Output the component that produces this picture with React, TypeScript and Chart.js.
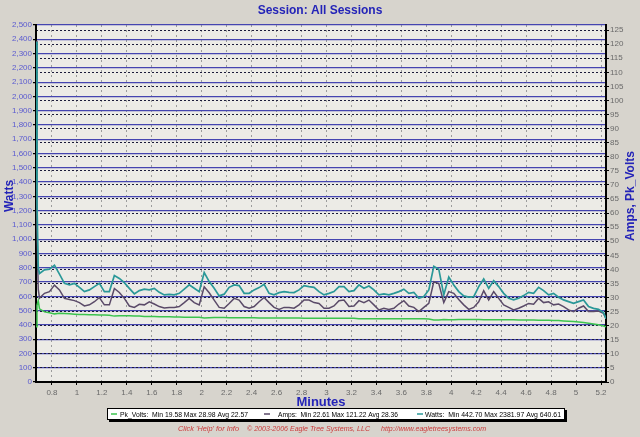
import React, { useEffect, useRef } from 'react';
import { Chart, registerables } from 'chart.js';

Chart.register(...registerables);

// ---------- data ----------
const MINUTES = [
  0.672, 0.68, 0.69,
  0.70, 0.74, 0.78, 0.82, 0.86, 0.90, 0.94, 0.98, 1.02, 1.06,
  1.10, 1.14, 1.18, 1.22, 1.26, 1.30, 1.34, 1.38, 1.42, 1.46,
  1.50, 1.54, 1.58, 1.62, 1.66, 1.70, 1.74, 1.78, 1.82, 1.86,
  1.90, 1.94, 1.98, 2.02, 2.06, 2.10, 2.14, 2.18, 2.22, 2.26,
  2.30, 2.34, 2.38, 2.42, 2.46, 2.50, 2.54, 2.58, 2.62, 2.66,
  2.70, 2.74, 2.78, 2.82, 2.86, 2.90, 2.94, 2.98, 3.02, 3.06,
  3.10, 3.14, 3.18, 3.22, 3.26, 3.30, 3.34, 3.38, 3.42, 3.46,
  3.50, 3.54, 3.58, 3.62, 3.66, 3.70, 3.74, 3.78, 3.82, 3.86,
  3.90, 3.94, 3.98, 4.02, 4.06, 4.10, 4.14, 4.18, 4.22, 4.26,
  4.30, 4.34, 4.38, 4.42, 4.46, 4.50, 4.54, 4.58, 4.62, 4.66,
  4.70, 4.74, 4.78, 4.82, 4.86, 4.90, 4.94, 4.98, 5.02, 5.06,
  5.10, 5.14, 5.18, 5.22, 5.24,
];

const WATTS = [
  2382, 1250, 800,
  760, 785, 790, 818, 755, 691, 680, 691, 663, 633,
  645, 668, 691, 633, 633, 745, 725, 696, 656, 617,
  640, 650, 645, 656, 628, 610, 614, 610, 621, 650,
  680, 656, 633, 766, 703, 656, 603, 615, 663, 680,
  675, 621, 621, 645, 661, 684, 621, 610, 626, 633,
  628, 626, 645, 675, 668, 663, 633, 610, 621, 633,
  668, 668, 633, 640, 680, 656, 672, 645, 610, 617,
  610, 621, 633, 650, 621, 628, 586, 598, 645, 810,
  790, 610, 735, 680, 633, 603, 594, 598, 668, 722,
  656, 710, 668, 621, 586, 575, 586, 605, 628, 621,
  663, 640, 610, 621, 594, 575, 563, 551, 563, 575,
  528, 516, 509, 486, 443,
];

const AMPS = [
  121.2, 55, 33,
  29.8, 31.5, 32.1, 34.4, 32.7, 29.7, 29.3, 28.9, 28.2, 27.0,
  27.4, 28.5, 30.0, 27.4, 27.4, 33.2, 31.8, 29.7, 27.0, 26.5,
  27.6, 27.4, 28.5, 27.7, 26.8, 26.3, 26.5, 26.5, 26.8, 28.2,
  29.7, 28.2, 27.4, 33.8, 31.7, 29.1, 26.5, 26.2, 27.9, 29.7,
  29.1, 26.8, 26.2, 26.8, 28.5, 30.0, 28.2, 26.5, 25.8, 26.5,
  26.5, 26.2, 27.4, 29.1, 29.1, 28.2, 27.9, 26.2, 26.2, 27.0,
  28.9, 29.1, 26.8, 27.0, 28.9, 28.2, 29.1, 27.4, 25.6, 26.2,
  25.8, 26.2, 27.7, 28.9, 27.0, 26.5, 25.0, 26.5, 27.9, 35.6,
  35.0, 28.2, 32.1, 31.5, 29.3, 27.4, 25.8, 26.5, 28.5, 32.4,
  29.1, 32.1, 29.7, 27.4, 26.5, 25.6, 26.2, 27.0, 27.9, 27.6,
  29.7, 28.2, 28.5, 27.4, 27.7, 26.8, 25.6, 25.0, 26.2, 27.0,
  25.0, 25.0, 25.2, 24.4, 22.6,
];

const PK_VOLTS = [
  19.6, 27.2, 28.9,
  26.0, 24.9, 24.6, 24.2, 24.4, 24.3, 24.2, 24.1, 24.0, 24.0,
  23.9, 23.9, 23.8, 23.8, 23.7, 23.4, 23.5, 23.5, 23.5, 23.4,
  23.4, 23.3, 23.3, 23.3, 23.2, 23.2, 23.2, 23.1, 23.1, 23.0,
  23.0, 23.0, 23.0, 22.7, 22.8, 22.9, 22.9, 22.9, 22.8, 22.8,
  22.8, 22.8, 22.8, 22.8, 22.7, 22.7, 22.7, 22.7, 22.7, 22.7,
  22.7, 22.7, 22.7, 22.6, 22.6, 22.6, 22.6, 22.6, 22.6, 22.6,
  22.6, 22.6, 22.6, 22.6, 22.5, 22.5, 22.5, 22.5, 22.5, 22.5,
  22.5, 22.5, 22.5, 22.5, 22.5, 22.5, 22.5, 22.5, 22.4, 22.0,
  22.0, 22.2, 22.1, 22.1, 22.2, 22.2, 22.2, 22.2, 22.2, 22.1,
  22.1, 22.1, 22.1, 22.1, 22.1, 22.1, 22.0, 22.0, 22.0, 22.0,
  21.9, 21.9, 21.9, 21.8, 21.8, 21.7, 21.6, 21.5, 21.3, 21.1,
  20.9, 20.6, 20.3, 19.9, 19.6,
];

const MINUTE_TICKS = [0.8, 1, 1.2, 1.4, 1.6, 1.8, 2, 2.2, 2.4, 2.6, 2.8, 3, 3.2, 3.4, 3.6, 3.8, 4, 4.2, 4.4, 4.6, 4.8, 5, 5.2];
const WATT_TICKS = [0, 100, 200, 300, 400, 500, 600, 700, 800, 900, 1000, 1100, 1200, 1300, 1400, 1500, 1600, 1700, 1800, 1900, 2000, 2100, 2200, 2300, 2400, 2500];
const AMP_TICKS = [0, 5, 10, 15, 20, 25, 30, 35, 40, 45, 50, 55, 60, 65, 70, 75, 80, 85, 90, 95, 100, 105, 110, 115, 120, 125];

const TITLE = 'Session: All Sessions';
const X_TITLE = 'Minutes';
const Y_TITLE = 'Watts';
const Y2_TITLE = 'Amps, Pk_Volts';
const LEGEND_NAMES = ['Pk_Volts', 'Amps', 'Watts'];
const LEGEND_TEXTS = [
  'Pk_Volts:  Min 19.58 Max 28.98 Avg 22.57',
  'Amps:  Min 22.61 Max 121.22 Avg 28.36',
  'Watts:  Min 442.70 Max 2381.97 Avg 640.61',
];
const FOOTER_TEXTS = [
  "Click 'Help' for Info",
  '\u00a9 2003-2006 Eagle Tree Systems, LLC',
  'http://www.eagletreesystems.com',
];

// ---------- styling ----------
const COLORS: Record<string, string> = {
  Watts: '#2a9898',
  Amps: '#5a4a68',
  Pk_Volts: '#3cc44f',
};
const FONT = '"Liberation Sans", Arial, sans-serif';
const BLUE = '#2424b8';

function fitText(ctx: CanvasRenderingContext2D, text: string, x: number, y: number, w: number) {
  const m = ctx.measureText(text).width;
  ctx.save();
  ctx.translate(x, y);
  ctx.scale(w / m, 1);
  ctx.fillText(text, 0, 0);
  ctx.restore();
}

const decorPlugin = {
  id: 'decor',
  beforeDraw(chart: any) {
    const { ctx, chartArea: a, width, height } = chart;
    ctx.save();
    ctx.fillStyle = '#d7d4cd';
    ctx.fillRect(0, 0, width, height);
    ctx.fillStyle = '#ecebe6';
    ctx.fillRect(a.left, a.top, a.right - a.left, a.bottom - a.top);
    ctx.restore();
  },
  afterDraw(chart: any) {
    const { ctx } = chart;
    ctx.save();
    // title
    ctx.fillStyle = BLUE;
    ctx.textBaseline = 'middle';
    ctx.textAlign = 'center';
    ctx.font = `bold 12px ${FONT}`;
    ctx.fillText(TITLE, 320, 11);
    // x title
    ctx.font = `bold 13px ${FONT}`;
    ctx.fillText(X_TITLE, 321, 402);
    // y titles
    ctx.font = `bold 12px ${FONT}`;
    ctx.save();
    ctx.translate(10, 196);
    ctx.rotate(-Math.PI / 2);
    ctx.fillText(Y_TITLE, 0, 0);
    ctx.restore();
    ctx.save();
    ctx.translate(631, 196);
    ctx.rotate(-Math.PI / 2);
    ctx.fillText(Y2_TITLE, 0, 0);
    ctx.restore();

    // legend box
    const bx = 107, by = 408, bw = 458, bh = 12;
    ctx.fillStyle = '#000';
    ctx.fillRect(bx + 2, by + 2, bw, bh);
    ctx.fillStyle = '#ffffff';
    ctx.fillRect(bx, by, bw, bh);
    ctx.strokeStyle = '#000';
    ctx.lineWidth = 1;
    ctx.strokeRect(bx + 0.5, by + 0.5, bw - 1, bh - 1);
    const dashX = [111, 264, 417];
    const textX = [120, 278, 425];
    const textW = [128, 120, 136];
    ctx.font = `8px ${FONT}`;
    ctx.textAlign = 'left';
    LEGEND_NAMES.forEach((name, i) => {
      ctx.strokeStyle = COLORS[name];
      ctx.lineWidth = 1.5;
      ctx.beginPath();
      ctx.moveTo(dashX[i], by + 6);
      ctx.lineTo(dashX[i] + 6, by + 6);
      ctx.stroke();
      ctx.fillStyle = '#000';
      fitText(ctx, LEGEND_TEXTS[i], textX[i], by + 6.5, textW[i]);
    });

    // footer
    ctx.font = `italic 8px ${FONT}`;
    ctx.fillStyle = '#cc3a3a';
    const fx = [178, 247, 381];
    const fw = [61, 123, 105];
    FOOTER_TEXTS.forEach((t, i) => fitText(ctx, t, fx[i], 429, fw[i]));
    ctx.restore();
  },
};

export default function App() {
  const ref = useRef<HTMLCanvasElement | null>(null);
  useEffect(() => {
    document.body.style.margin = '0';
    const canvas = ref.current;
    if (!canvas) return;
    const mk = (arr: number[]) => MINUTES.map((m, i) => ({ x: m, y: arr[i] }));
    const tickFont = { family: FONT, size: 8 };
    const chart = new Chart(canvas, {
      type: 'line',
      data: {
        datasets: [
          { label: 'Watts', data: mk(WATTS), yAxisID: 'y', borderColor: COLORS.Watts, borderWidth: 1.7, pointRadius: 0, order: 0 },
          { label: 'Amps', data: mk(AMPS), yAxisID: 'y2', borderColor: COLORS.Amps, borderWidth: 1.5, pointRadius: 0, order: 1 },
          { label: 'Pk_Volts', data: mk(PK_VOLTS), yAxisID: 'y2', borderColor: COLORS.Pk_Volts, borderWidth: 1.5, pointRadius: 0, order: 2 },
        ],
      } as any,
      options: {
        animation: false,
        responsive: false,
        devicePixelRatio: 1,
        layout: { padding: { top: 25, left: 0, right: 0, bottom: 0 } },
        plugins: { legend: { display: false }, title: { display: false }, tooltip: { enabled: false } },
        scales: {
          x: {
            type: 'linear',
            min: 0.672,
            max: 5.24,
            afterBuildTicks: (s: any) => { s.ticks = MINUTE_TICKS.map((v) => ({ value: v })); },
            afterFit: (s: any) => { s.height = 55; },
            ticks: {
              autoSkip: false, maxRotation: 0, font: tickFont, color: '#6a6a6a', padding: 3,
              callback: (v: any) => String(Math.round(Number(v) * 10) / 10),
            },
            grid: { color: '#9c9c9c', lineWidth: 1, tickLength: 3, tickColor: '#000' },
            border: { display: true, color: '#000', width: 2, dash: [2, 3] },
          },
          y: {
            type: 'linear',
            position: 'left',
            min: 0,
            max: 2500,
            afterBuildTicks: (s: any) => { s.ticks = WATT_TICKS.map((v) => ({ value: v })); },
            afterFit: (s: any) => { s.width = 36; },
            ticks: {
              autoSkip: false, font: tickFont, color: '#5a5ad0', padding: 1,
              callback: (v: any) => Number(v).toLocaleString('en-US'),
            },
            grid: { color: '#4545b0', lineWidth: 1.2, tickLength: 3, tickColor: '#000' },
            border: { display: true, color: '#000', width: 2 },
          },
          y2: {
            type: 'linear',
            position: 'right',
            min: 0,
            max: 126.8,
            afterBuildTicks: (s: any) => { s.ticks = AMP_TICKS.map((v) => ({ value: v })); },
            afterFit: (s: any) => { s.width = 34; },
            ticks: { autoSkip: false, font: tickFont, color: '#6a6a6a', padding: 1 },
            grid: { color: '#1a1a3a', lineWidth: 1, tickLength: 3, tickColor: '#000' },
            border: { display: true, color: '#000', width: 2, dash: [2, 2] },
          },
        },
      } as any,
      plugins: [decorPlugin],
    });
    return () => chart.destroy();
  }, []);
  return <canvas ref={ref} width={640} height={437} style={{ display: 'block' }} />;
}
